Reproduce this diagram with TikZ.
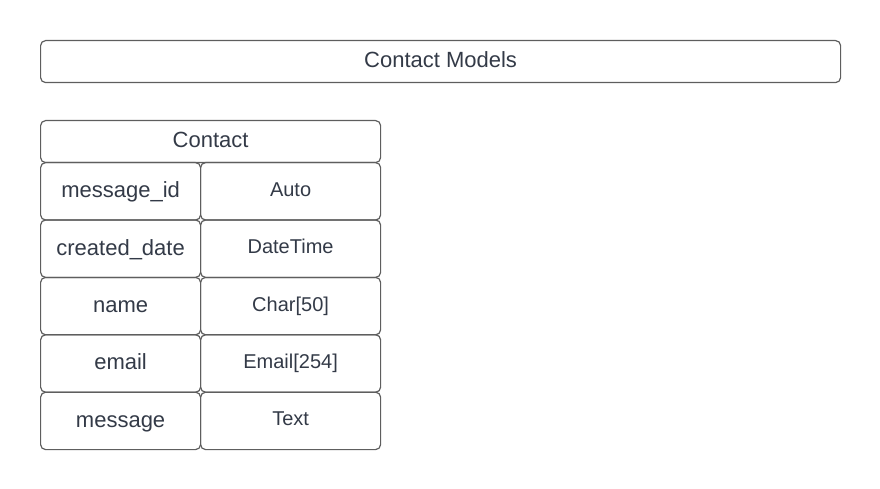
\documentclass[tikz,border=0pt]{standalone}
\usepackage{fontspec}
\setmainfont{Liberation Sans}
\definecolor{boxline}{HTML}{5E5E5E}
\definecolor{boxtext}{HTML}{333A47}
\begin{document}
\begin{tikzpicture}[x=1pt,y=-1pt,
    cell/.style={draw=boxline,line width=1.2pt,rounded corners=5pt,text=boxtext,inner sep=0pt,anchor=north west,text height=17.6pt,text depth=4.8pt},
    fieldcell/.style={cell,minimum width=160pt,minimum height=57.4pt,font=\fontsize{22}{26}\selectfont},
    typecell/.style={cell,minimum width=180pt,minimum height=57.4pt,font=\fontsize{20}{24}\selectfont,text height=15pt,text depth=5pt}]
    \useasboundingbox (0,0) rectangle (880,489);
    \node[cell,minimum width=800pt,minimum height=42pt,font=\fontsize{22}{26}\selectfont] (title) at (40,40) {Contact Models};
    \node[cell,minimum width=340pt,minimum height=42pt,font=\fontsize{22}{26}\selectfont] (contact) at (40,120) {Contact};
    \foreach \i/\fname/\ftype in {0/message\_id/Auto, 1/created\_date/DateTime, 2/name/Char[50], 3/email/Email[254], 4/message/Text} {
        \node[fieldcell] (f\i) at (40,{162+57.4*\i}) {\fname};
        \node[typecell] (t\i) at (200,{162+57.4*\i}) {\ftype};
    }
\end{tikzpicture}
\end{document}
